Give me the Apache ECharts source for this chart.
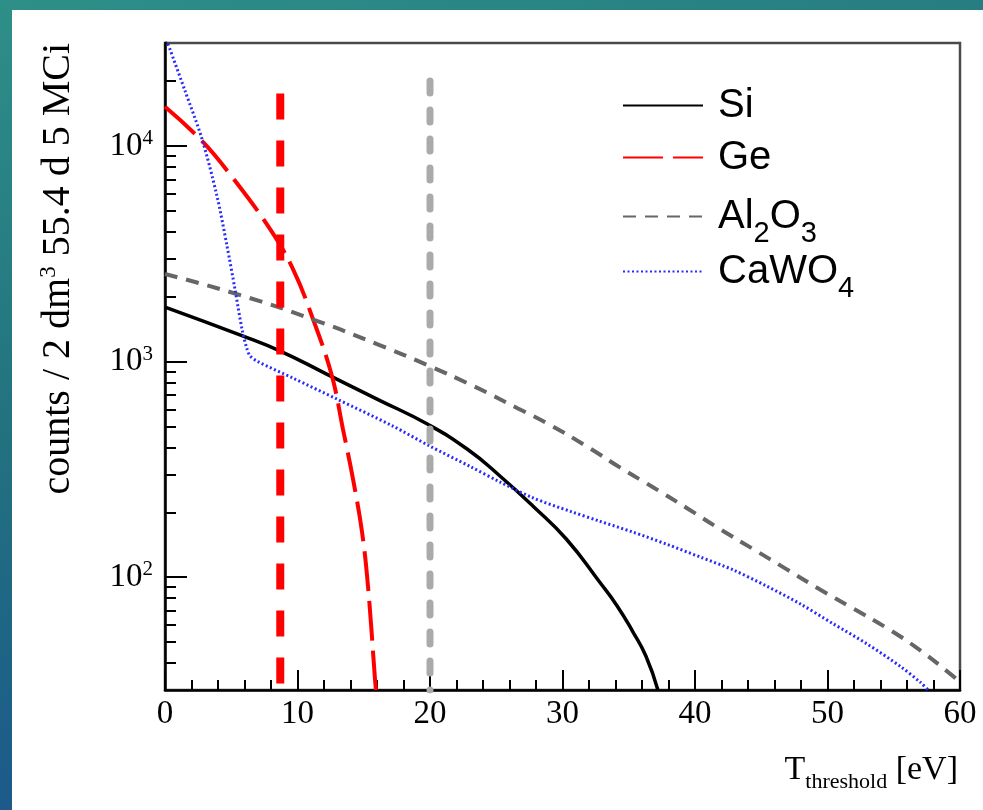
<!DOCTYPE html>
<html>
<head>
<meta charset="utf-8">
<script src="https://cdn.jsdelivr.net/npm/echarts@6/dist/echarts.min.js"></script>
<style>
  html, body { margin: 0; padding: 0; width: 983px; height: 810px; overflow: hidden; }
  body { background: linear-gradient(165deg, #2e8f88 0%, #22727f 40%, #1c5a8a 75%, #1a4c8f 100%); position: relative; }
  #panel { position: absolute; left: 12px; top: 10px; right: 0; bottom: 0; background: #ffffff; }
  #chart { position: absolute; left: 0; top: 0; width: 983px; height: 810px; }
</style>
</head>
<body>
<div id="panel"></div>
<div id="chart"></div>
<script>
// Recoil counts above threshold for each target material
const siEnergy = [0, 5.9, 8.7, 12.2, 16, 19.8, 22.8, 25.3, 27.8, 30.3, 32.8, 34.1, 35.3, 36.3, 37.2];
const siCounts = [1790, 1313, 1119, 875, 670, 513, 393, 294, 213, 150, 95, 74, 56, 43, 30];

const geEnergy = [0, 2.79, 5.06, 7.92, 9.66, 11.17, 12.6, 13.43, 14.19, 14.87, 15.32, 15.85, 15.92];
const geCounts = [15180, 10550, 7180, 4120, 2686, 1574, 857, 486, 285, 162, 91, 33.6, 30];

const alEnergy = [0, 5.9, 11.5, 16, 19.8, 23.3, 26.6, 29.1, 32.1, 34.3, 36.8, 39.4, 41.9, 44.4, 46.9, 49.4, 51.9, 54.5, 57, 59.5, 60];
const alCounts = [2547, 2014, 1541, 1205, 963, 769, 608, 507, 395, 324, 262, 209, 167, 135, 109, 88, 71.8, 58, 45.8, 34.7, 32.6];

const cawEnergy = [0, 1.51, 2.79, 3.92, 4.68, 5.28, 5.81, 6.19, 6.42, 6.94, 9.66, 12.98, 17.2, 20, 23, 25.3, 27.8,
                   30.6, 32.8, 35.3, 37.9, 40.4, 42.9, 45.4, 47.9, 50.4, 53, 55.5, 57, 57.6];
const cawCounts = [32500, 18000, 10780, 5866, 3436, 2168, 1416, 1143, 1062, 1005, 838, 670, 502, 405, 327, 276, 233,
                   202, 182, 162, 142, 124, 108, 91, 75.5, 61, 49, 38.6, 32.6, 30];

// Threshold markers: [energy, top of the marker line]
const geThreshold = [8.7, 17500];
const alThreshold = [20, 20000];

const materials = ['Si', 'Ge', 'Al2O3', 'CaWO4'];
const xTicks = [0, 10, 20, 30, 40, 50, 60];
const yMajorTicks = [100, 1000, 10000];
const yMinorTicks = [40, 50, 60, 70, 80, 90, 200, 300, 400, 500, 600, 700, 800, 900,
                     2000, 3000, 4000, 5000, 6000, 7000, 8000, 9000, 20000];
const yMin = 30, yMax = 30000;

function pairs(xs, ys) { return xs.map((x, i) => [x, ys[i]]); }

// Chemical formula -> rich text with subscripted digits
function formulaRich(name) {
  const parts = name.match(/(\d+|\D+)/g);
  return parts.map(p => /\d/.test(p) ? '{s|' + p + '}' : '{n|' + p + '}').join('');
}

const serif = 'Liberation Serif';
const sans = 'Liberation Sans';

// One legend block per row so that rows sit at fixed spacing
const legendRowCenters = [112, 164, 217, 272];
const legends = materials.map((m, i) => ({
  orient: 'vertical',
  left: 622, top: legendRowCenters[i] - 32,
  itemWidth: 80, itemHeight: 64,
  padding: 0,
  data: [m],
  formatter: formulaRich,
  itemStyle: { opacity: 0 },
  textStyle: {
    padding: [0, 0, 0, 10],
    rich: {
      n: { fontFamily: sans, fontSize: 40, color: '#000', lineHeight: 64 },
      s: { fontFamily: sans, fontSize: 29, color: '#000', lineHeight: 28, padding: [34, 0, 0, 0] }
    }
  }
}));

const chart = echarts.init(document.getElementById('chart'), null, { renderer: 'canvas' });

const option = {
  animation: false,
  backgroundColor: 'transparent',
  grid: {
    left: 165, top: 43, width: 795, height: 647,
    show: true, borderColor: '#4a4a4a', borderWidth: 2.5, backgroundColor: 'transparent'
  },
  legend: legends,
  xAxis: {
    type: 'value',
    min: 0, max: 60, interval: 10,
    name: '{t|T}{s|threshold}{t| [eV]}',
    nameLocation: 'end',
    nameGap: -2,
    nameMoveOverlap: false,
    nameTextStyle: {
      align: 'right', verticalAlign: 'top', padding: [63, 0, 0, 0],
      rich: {
        t: { fontFamily: serif, fontSize: 34, color: '#000', lineHeight: 40, verticalAlign: 'top' },
        s: { fontFamily: serif, fontSize: 22, color: '#000', lineHeight: 24, verticalAlign: 'bottom', padding: [38, 0, 0, 0] }
      }
    },
    axisLine: { onZero: false, lineStyle: { color: '#000', width: 2.5 } },
    axisTick: { inside: true, length: 20, lineStyle: { color: '#000', width: 2 } },
    minorTick: { show: true, splitNumber: 5, length: 10, lineStyle: { color: '#000', width: 2 } },
    splitLine: { show: false },
    minorSplitLine: { show: false },
    axisLabel: {
      fontFamily: serif, fontSize: 33, color: '#000', margin: 8,
      customValues: xTicks
    }
  },
  yAxis: [
    {
      type: 'log', logBase: 10, min: yMin, max: yMax,
      position: 'left',
      name: '{a|counts / 2 dm}{b|3}{a| 55.4 d 5 MCi}',
      nameLocation: 'end',
      nameRotate: 90,
      nameGap: 0,
      nameMoveOverlap: false,
      nameTextStyle: {
        align: 'right', verticalAlign: 'bottom', padding: [0, 0, 86, 0],
        rich: {
          a: { fontFamily: serif, fontSize: 40, color: '#000', lineHeight: 42 },
          b: { fontFamily: serif, fontSize: 23, color: '#000', lineHeight: 23, verticalAlign: 'top' }
        }
      },
      axisLine: { onZero: false, lineStyle: { color: '#000', width: 2.5 } },
      axisTick: { inside: true, length: 22, customValues: yMajorTicks, lineStyle: { color: '#000', width: 2 } },
      splitLine: { show: false },
      axisLabel: {
        margin: 12,
        customValues: yMajorTicks,
        formatter: v => '{b|10}{e|' + Math.round(Math.log10(v)) + '}',
        rich: {
          b: { fontFamily: serif, fontSize: 33, color: '#000', lineHeight: 36 },
          e: { fontFamily: serif, fontSize: 21, color: '#000', lineHeight: 21, verticalAlign: 'top' }
        }
      }
    },
    {
      type: 'log', logBase: 10, min: yMin, max: yMax,
      position: 'left',
      axisLine: { show: false },
      axisTick: { inside: true, length: 11, customValues: yMinorTicks, lineStyle: { color: '#000', width: 2 } },
      axisLabel: { show: false },
      splitLine: { show: false }
    }
  ],
  series: [
    {
      name: 'Si', type: 'line', symbol: 'none', smooth: 0.5, z: 3,
      data: pairs(siEnergy, siCounts),
      lineStyle: { color: '#000', width: 3.5, type: 'solid' },
      itemStyle: { color: '#000' }
    },
    {
      name: 'Ge', type: 'line', symbol: 'none', smooth: 0.4, z: 3,
      data: pairs(geEnergy, geCounts),
      lineStyle: { color: '#ff0000', width: 4, type: [40, 10] },
      itemStyle: { color: '#ff0000' }
    },
    {
      name: 'Al2O3', type: 'line', symbol: 'none', smooth: 0.5, z: 3,
      data: pairs(alEnergy, alCounts),
      lineStyle: { color: '#666666', width: 4, type: [13, 9] },
      itemStyle: { color: '#666666' }
    },
    {
      name: 'CaWO4', type: 'line', symbol: 'none', smooth: 0.3, z: 3,
      data: pairs(cawEnergy, cawCounts),
      lineStyle: { color: '#2a2aff', width: 3, type: [2, 2.5] },
      itemStyle: { color: '#2a2aff' }
    },
    {
      name: 'Ge threshold', type: 'line', symbol: 'none', z: 4,
      data: [[geThreshold[0], geThreshold[1]], [geThreshold[0], yMin]],
      lineStyle: { color: '#ff0000', width: 8, type: [26, 21] }
    },
    {
      name: 'Al2O3 threshold', type: 'line', symbol: 'none', z: 4,
      data: [[alThreshold[0], alThreshold[1]], [alThreshold[0], yMin]],
      lineStyle: { color: '#aaaaaa', width: 7, type: [12, 17], cap: 'round' }
    }
  ]
};

chart.setOption(option);
</script>
</body>
</html>
